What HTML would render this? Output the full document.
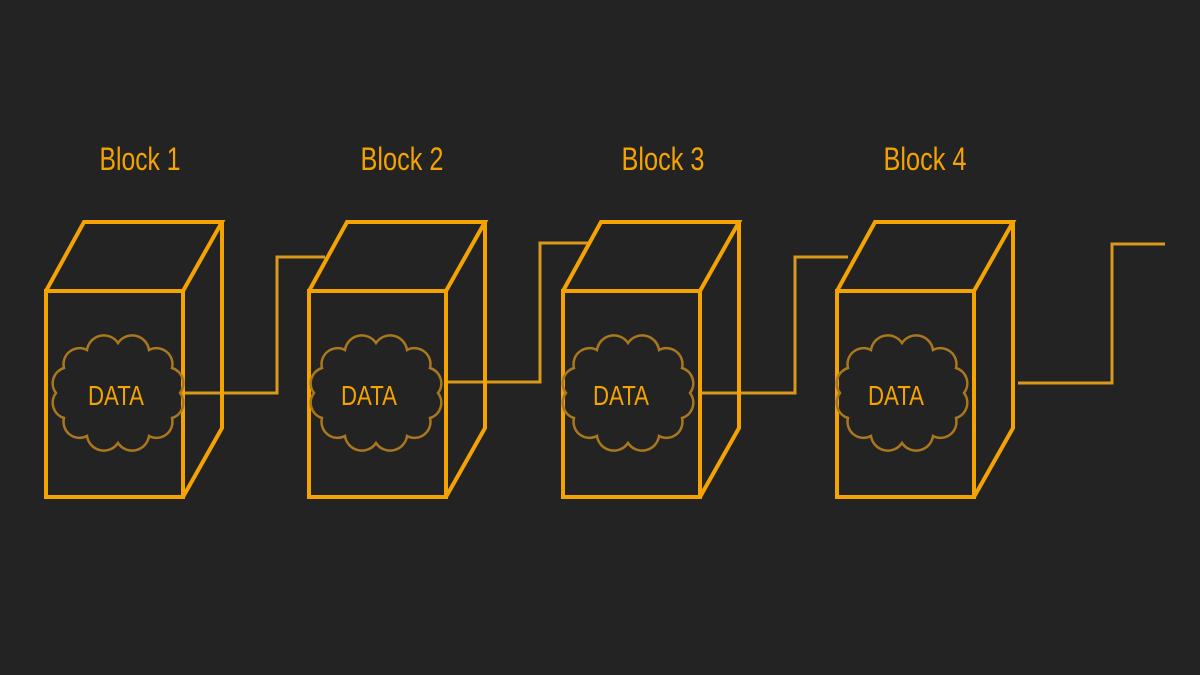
<!DOCTYPE html>
<html><head><meta charset="utf-8"><style>
html,body{margin:0;padding:0;background:#232323;width:1200px;height:675px;overflow:hidden}
svg{display:block}
text{font-family:"Liberation Sans",sans-serif}
</style></head><body>
<svg width="1200" height="675" viewBox="0 0 1200 675">
<rect width="1200" height="675" fill="#232323"/>
<defs>
<g id="cube" fill="none" stroke="#f5a300" stroke-width="4" stroke-linejoin="miter">
<rect x="0" y="0" width="137" height="206"/>
<path d="M0,0 L38,-69 L176,-69 L137,0 M176,-69 L176,137 L137,206"/>
</g>
<path id="cloud" fill="none" stroke="#a9781e" stroke-width="2.5" d="M62,0 A16,16 0 0 1 54,25 A16,16 0 0 1 31,43 A17,17 0 0 1 0,50 A17,17 0 0 1 -31,43 A16,16 0 0 1 -54,25 A16,16 0 0 1 -62,0 A16,16 0 0 1 -54,-25 A16,16 0 0 1 -31,-43 A17,17 0 0 1 0,-50 A17,17 0 0 1 31,-43 A16,16 0 0 1 54,-25 A16,16 0 0 1 62,0 Z"/>
</defs>
<g fill="none" stroke="#d99a1c" stroke-width="3">
<polyline points="183,393 277,393 277,257 325,257"/>
<polyline points="446,382 540,382 540,243 590,243"/>
<polyline points="698,393 795,393 795,257 848,257"/>
<polyline points="1018,383 1112,383 1112,244 1165,244"/>
</g>
<use href="#cube" x="46" y="291"/>
<use href="#cube" x="309" y="291"/>
<use href="#cube" x="563" y="291"/>
<use href="#cube" x="837" y="291"/>
<use href="#cloud" x="118" y="393"/>
<use href="#cloud" x="376" y="393"/>
<use href="#cloud" x="628" y="393"/>
<use href="#cloud" x="902" y="393"/>
<g fill="#f5a300" font-size="28" text-anchor="middle">
<text x="116" y="405" textLength="56" lengthAdjust="spacingAndGlyphs">DATA</text>
<text x="369" y="405" textLength="56" lengthAdjust="spacingAndGlyphs">DATA</text>
<text x="621" y="405" textLength="56" lengthAdjust="spacingAndGlyphs">DATA</text>
<text x="896" y="405" textLength="56" lengthAdjust="spacingAndGlyphs">DATA</text>
</g>
<g fill="#f5a300" font-size="32" text-anchor="middle">
<text x="140" y="170" textLength="81" lengthAdjust="spacingAndGlyphs">Block 1</text>
<text x="402" y="170" textLength="83" lengthAdjust="spacingAndGlyphs">Block 2</text>
<text x="663" y="170" textLength="83" lengthAdjust="spacingAndGlyphs">Block 3</text>
<text x="925" y="170" textLength="83" lengthAdjust="spacingAndGlyphs">Block 4</text>
</g>
</svg>
</body></html>
